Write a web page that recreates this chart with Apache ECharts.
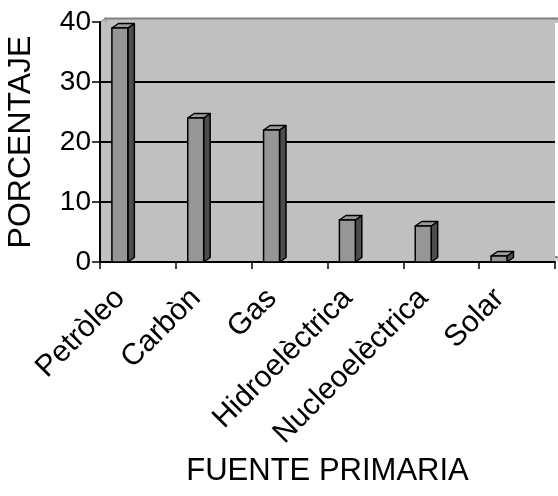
<!DOCTYPE html>
<html>
<head>
<meta charset="utf-8">
<script src="https://cdn.jsdelivr.net/npm/echarts@6/dist/echarts.min.js"></script>
<style>
  html, body { margin: 0; padding: 0; background: #ffffff; }
  #chart { width: 558px; height: 496px; }
</style>
</head>
<body>
<div id="chart"></div>
<script>
// Primary energy sources and their share (%)
const categories = ['Petròleo', 'Carbòn', 'Gas', 'Hidroelèctrica', 'Nucleoelèctrica', 'Solar'];
const percentages = [39, 24, 22, 7, 6, 1];
const yTickValues = [0, 10, 20, 30, 40];

const FONT = '"Liberation Sans", Arial, sans-serif';
const GRID = { left: 100, right: 3, top: 22, bottom: 234 };
const W = 558, H = 496;
const DEPTH_X = 6.5, DEPTH_Y = 4.5;

// Pseudo-3D column: front face, dark right side, light top
function renderColumn(params, api) {
  const idx = api.value(0);
  const val = api.value(1);
  const base = api.coord([idx, 0]);
  const top = api.coord([idx, val]);
  const band = api.size([1, 0])[0];
  const w = band * 0.21;
  const x0 = base[0] - band * 0.343;
  const x1 = x0 + w;
  const yt = top[1], yb = base[1];
  const stroke = { stroke: '#000', lineWidth: 1.5, lineJoin: 'round' };
  return {
    type: 'group',
    children: [
      { type: 'polygon', shape: { points: [[x1, yt], [x1 + DEPTH_X, yt - DEPTH_Y], [x1 + DEPTH_X, yb - DEPTH_Y], [x1, yb]] },
        style: Object.assign({ fill: '#4d4d4d' }, stroke) },
      { type: 'polygon', shape: { points: [[x0, yt], [x0 + DEPTH_X, yt - DEPTH_Y], [x1 + DEPTH_X, yt - DEPTH_Y], [x1, yt]] },
        style: Object.assign({ fill: '#9a9a9a' }, stroke) },
      { type: 'rect', shape: { x: x0, y: yt, width: w, height: yb - yt },
        style: Object.assign({ fill: '#969696' }, stroke) }
    ]
  };
}

const plotBottom = H - GRID.bottom;

const chart = echarts.init(document.getElementById('chart'), null, { renderer: 'canvas' });
chart.setOption({
  animation: false,
  backgroundColor: '#ffffff',
  textStyle: { fontFamily: FONT, color: '#000' },
  grid: Object.assign({ show: true, backgroundColor: '#c0c0c0', borderWidth: 0, containLabel: false, outerBoundsMode: 'none' }, GRID),
  graphic: [
    // back wall rim above the top value
    { type: 'rect', z: -1, shape: { x: GRID.left + 5, y: GRID.top - 4, width: W - GRID.left - 5, height: 5 },
      style: { fill: '#c0c0c0' } },
    { type: 'line', z: -1, shape: { x1: GRID.left + 4, y1: GRID.top - 3.5, x2: W, y2: GRID.top - 3.5 },
      style: { stroke: '#808080', lineWidth: 2 } },
    // side wall
    { type: 'polygon', z: -1, shape: { points: [[GRID.left, GRID.top], [GRID.left + 6, GRID.top - 4], [GRID.left + 6, plotBottom - 5], [GRID.left, plotBottom]] },
      style: { fill: '#b8b8b8', stroke: '#8a8a8a', lineWidth: 1 } },
    // floor
    { type: 'polygon', z: -1, shape: { points: [[GRID.left + 1, plotBottom - 1], [GRID.left + 6, plotBottom - 5], [W, plotBottom - 5], [W, plotBottom - 1]] },
      style: { fill: '#d4d4d4' } },
    { type: 'line', z: -1, shape: { x1: GRID.left + 6, y1: plotBottom - 5, x2: W, y2: plotBottom - 5 },
      style: { stroke: '#6a6a6a', lineWidth: 1.5 } }
  ],
  xAxis: {
    type: 'category',
    data: categories,
    boundaryGap: true,
    name: 'FUENTE PRIMARIA',
    nameLocation: 'middle',
    nameGap: 194,
    nameTextStyle: { fontSize: 31, fontFamily: FONT, color: '#000' },
    axisLine: { lineStyle: { color: '#000', width: 2 } },
    axisTick: { show: true, length: 7, lineStyle: { color: '#000', width: 1.5 } },
    axisLabel: {
      rotate: 45,
      margin: 14,
      fontSize: 30,
      fontFamily: FONT,
      color: '#000',
      padding: [0, 25, 0, 0]
    },
    splitLine: { show: false }
  },
  yAxis: {
    type: 'value',
    min: yTickValues[0],
    max: yTickValues[yTickValues.length - 1],
    interval: 10,
    name: 'PORCENTAJE',
    nameLocation: 'middle',
    nameGap: 63,
    nameTextStyle: { fontSize: 32, fontFamily: FONT, color: '#000' },
    axisLine: { show: true, lineStyle: { color: '#000', width: 2 } },
    axisTick: { show: true, length: 8, lineStyle: { color: '#000', width: 1.5 } },
    axisLabel: { fontSize: 28, fontFamily: FONT, color: '#000', margin: 9 },
    splitLine: { show: true, showMaxLine: false, lineStyle: { color: '#000', width: 2 } }
  },
  series: [{
    type: 'custom',
    z: 3,
    renderItem: renderColumn,
    encode: { x: 0, y: 1 },
    data: percentages.map((v, i) => [i, v])
  }]
});
</script>
</body>
</html>
